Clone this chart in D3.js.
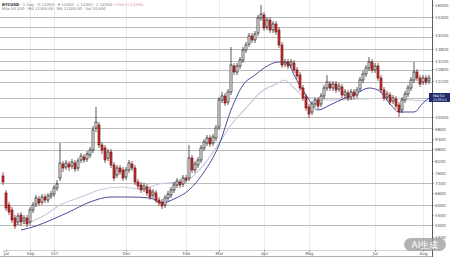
<!DOCTYPE html>
<html>
<head>
<meta charset="utf-8">
<script src="https://cdn.jsdelivr.net/npm/d3@7"></script>
<style>
  html, body { margin: 0; padding: 0; background: #fff; }
  #chart { width: 450px; height: 257px; overflow: hidden; }
  text { font-family: "DejaVu Sans", Arial, sans-serif; }
  .axis text { font-size: 4.2px; fill: #555; }
  .axis line { stroke: #666; stroke-width: 0.5; }
  .legend { font-size: 3.8px; fill: #777; }
</style>
</head>
<body>
<div id="chart"></div>
<script>
// daily candles
const opens = [
  7450, 6600, 6000, 5750, 5350, 5150, 5500, 5200, 5350, 5150,
  5750, 6050, 6300, 6150, 6400, 6250, 6450, 6550, 6850, 7350,
  8050, 7900, 8050, 7950, 8100, 7850, 8250, 8400, 8300, 8500,
  8750, 9850, 10000, 9000, 8850, 8350, 8650, 8000, 7500, 7850,
  7750, 7400, 7750, 8050, 7850, 7150, 7000, 6800, 6900, 6750,
  6500, 6600, 6250, 6150, 6000, 6350, 6500, 6750, 7000, 7150,
  7050, 7350, 7350, 8350, 7750, 8000, 8250, 8850, 9100, 9350,
  9100, 9350, 9900, 11250, 11450, 11150, 11650, 12950, 12650, 12950,
  13250, 13750, 14050, 14450, 14250, 14600, 15350, 15500, 14900, 15250,
  14750, 15050, 14750, 14000, 13050, 13150, 13000, 13100, 12750, 12500,
  11850, 11400, 10900, 10650, 11050, 11250, 11050, 11450, 11850, 12050,
  11850, 12050, 11800, 11900, 11500, 11600, 11400, 11650, 11500, 11800,
  12250, 12550, 12850, 13150, 12750, 12950, 12350, 11750, 11400, 11500,
  11200, 11300, 11000, 10750, 11250, 11550, 11850, 12250, 12650, 12350,
  12150, 12350, 12200,
];
const highs = [
  7650, 6750, 6150, 5900, 5500, 5600, 5650, 5500, 5500, 5900,
  6150, 6500, 6450, 6550, 6550, 6600, 6700, 7000, 7250, 9100,
  8200, 8250, 8200, 8300, 8250, 8350, 8600, 8550, 8700, 8900,
  9950, 10900, 10150, 9150, 9000, 8800, 8800, 8150, 8000, 8000,
  7900, 7900, 8250, 8200, 8000, 7300, 7150, 7100, 7050, 6900,
  6800, 6750, 6400, 6300, 6500, 6700, 6900, 7150, 7350, 7300,
  7500, 7500, 9000, 8500, 8200, 8400, 9000, 9300, 9500, 9500,
  9550, 10000, 11400, 11650, 11600, 11800, 13900, 13100, 13100, 13400,
  13900, 14150, 14600, 14600, 14700, 15500, 16000, 15650, 15400, 15400,
  15200, 15200, 14900, 14150, 13300, 13300, 13300, 13250, 12900, 12650,
  12000, 11550, 11050, 11200, 11400, 11400, 11600, 12000, 12500, 12200,
  12200, 12200, 12100, 12050, 11800, 11750, 11800, 11800, 11900, 12400,
  12700, 13000, 13400, 13300, 13100, 13100, 12500, 11900, 11700, 11650,
  11500, 11450, 11150, 11400, 11700, 12000, 12400, 13150, 12800, 12500,
  12500, 12500, 12500,
];
const lows = [
  7000, 5700, 5500, 5100, 4800, 5000, 4950, 5050, 4900, 5000,
  5600, 5900, 5950, 6000, 6100, 6100, 6300, 6400, 6700, 7200,
  7650, 7750, 7700, 7800, 7650, 7700, 8100, 8100, 8150, 8350,
  8600, 9650, 8850, 8550, 8100, 8200, 7850, 7200, 7350, 7500,
  7200, 7250, 7600, 7700, 7000, 6800, 6600, 6650, 6450, 6250,
  6350, 6100, 5950, 5800, 5850, 6200, 6350, 6600, 6850, 6850,
  6900, 7100, 7200, 7600, 7600, 7850, 8100, 8700, 8950, 8900,
  8950, 9200, 9750, 11100, 10950, 11000, 11500, 12500, 12500, 12800,
  13100, 13600, 13900, 14100, 14100, 14450, 15200, 14700, 14750, 14600,
  14600, 14500, 13850, 12850, 12900, 12800, 12850, 12600, 12300, 11700,
  11200, 10700, 10350, 10500, 10900, 10800, 10900, 11300, 11700, 11700,
  11700, 11600, 11650, 11350, 11350, 11200, 11250, 11300, 11350, 11650,
  12100, 12400, 12700, 12600, 12600, 12200, 11600, 11200, 11250, 11000,
  11050, 10800, 10400, 10600, 11100, 11400, 11700, 12100, 12200, 11900,
  12000, 12000, 12050,
];
const closes = [
  7150, 5850, 5650, 5250, 4950, 5450, 5150, 5350, 5050, 5750,
  6000, 6350, 6100, 6400, 6250, 6450, 6550, 6850, 7050, 8100,
  7850, 8100, 7900, 8150, 7800, 8200, 8450, 8250, 8550, 8750,
  9750, 10150, 9000, 8750, 8250, 8650, 8000, 7350, 7850, 7650,
  7350, 7750, 8100, 7850, 7150, 6950, 6750, 6950, 6600, 6400,
  6650, 6250, 6100, 5950, 6350, 6550, 6750, 7000, 7200, 7000,
  7350, 7250, 8350, 7750, 8050, 8250, 8850, 9150, 9350, 9050,
  9400, 9850, 11250, 11450, 11100, 11650, 13000, 12650, 12950, 13250,
  13750, 14000, 14450, 14250, 14550, 15350, 15550, 14850, 15250, 14750,
  15050, 14650, 14000, 13000, 13150, 12950, 13150, 12750, 12450, 11850,
  11350, 10850, 10550, 11050, 11250, 10950, 11450, 11850, 12150, 11850,
  12050, 11750, 11950, 11500, 11650, 11350, 11650, 11450, 11750, 12250,
  12550, 12850, 13150, 12750, 12950, 12350, 11750, 11350, 11550, 11150,
  11350, 10950, 10650, 11250, 11550, 11850, 12250, 12650, 12350, 12050,
  12350, 12150, 12350,
];

// moving averages (bar index, value)
const maFastIdx = [6, 11, 16, 22, 29, 36, 42, 49, 53, 57, 62, 67, 72, 76, 80, 84, 87, 92, 95, 97,
  101, 105, 109, 114, 118, 122, 125, 129, 132, 137, 140, 142];
const maFast = [4750, 4950, 5250, 5650, 6150, 6400, 6400, 6350, 6100, 6300, 6750, 7650, 9000, 10750,
  12000, 12500, 12850, 13150, 13100, 12500, 11500, 10750, 11000, 11350, 11600, 11850, 11750,
  11050, 10650, 10650, 11100, 11350];
const maSlowIdx = [4, 9, 14, 19, 26, 32, 39, 46, 52, 61, 66, 71, 76, 81, 86, 91, 94, 97, 101, 109,
  119, 129, 136, 142];
const maSlow = [5000, 5150, 5500, 6000, 6400, 6750, 6900, 6800, 7050, 7200, 7850, 8850, 10000,
  10850, 11650, 12050, 12250, 11850, 11400, 11250, 11300, 11350, 11250, 11200];

const priceTicks = [16000, 15400, 14500, 13800, 13200, 12800, 12200, 10400, 9800, 9300, 8800,
  8200, 7600, 7100, 6600, 6000, 5500, 5000, 4400];
const gridLevels = [15400, 14900, 14400, 13800, 13200, 12750, 12150, 11350, 10400, 9850, 9150,
  8750, 7100, 6000, 5000];
const monthIdx = [1, 9, 17, 41, 61, 72, 87, 102, 124, 140];
const monthLabels = ['Jul', 'Sep', 'Oct', 'Dec', 'Feb', 'Mar', 'Apr', 'May', 'Jul', 'Aug'];

class Chart {
  constructor(node, options) {
    this.options = options || {};
    this.container = d3.select(node);
    this.setupVar();
    this.setupUtils();
    this.setupDOM();
  }

  setupVar() {
    this.width = 450;
    this.height = 257;
    this.plotRight = 432;
    this.plotBottom = 250;
    this.bars = closes.map((c, i) => ({
      i, open: opens[i], high: highs[i], low: lows[i], close: c,
    }));
  }

  setupUtils() {
    this.x = d3.scaleLinear().domain([0, closes.length - 1]).range([3, 429]);
    this.y = d3.scaleLinear().domain([3850, 16000]).range([248, 5]);

    this.yAxis = d3.axisRight(this.y)
      .tickValues(priceTicks)
      .tickSize(2)
      .tickPadding(1)
      .tickFormat((d) => `${d}`);

    this.xAxis = d3.axisBottom(this.x)
      .tickValues(monthIdx)
      .tickSize(2)
      .tickPadding(0.5)
      .tickFormat((d, i) => monthLabels[i]);

    this.line = d3.line()
      .x((d) => this.x(d.i))
      .y((d) => this.y(d.v))
      .curve(d3.curveMonotoneX);
  }

  setupDOM() {
    this.svg = this.container.append('svg')
      .attr('width', this.width)
      .attr('height', this.height);
  }

  draw() {
    const { svg, x, y } = this;

    // vertical month grid
    svg.append('g').selectAll('line')
      .data(monthIdx.slice(1))
      .join('line')
      .attr('x1', (d) => Math.round(x(d)) + 0.5)
      .attr('x2', (d) => Math.round(x(d)) + 0.5)
      .attr('y1', 0)
      .attr('y2', this.plotBottom)
      .attr('stroke', '#e6e6e6')
      .attr('stroke-width', 0.8);

    // horizontal grid
    svg.append('g').selectAll('line')
      .data(gridLevels)
      .join('line')
      .attr('x1', 0)
      .attr('x2', this.plotRight)
      .attr('y1', (d) => Math.round(y(d)) + 0.5)
      .attr('y2', (d) => Math.round(y(d)) + 0.5)
      .attr('stroke', '#b4b4b4')
      .attr('stroke-width', 0.9);

    const series = (idx, vals) => idx.map((i, k) => ({ i, v: vals[k] }));

    svg.append('path')
      .datum(series(maSlowIdx, maSlow))
      .attr('d', this.line)
      .attr('fill', 'none')
      .attr('stroke', '#cdc9dc')
      .attr('stroke-width', 1.2);

    svg.append('path')
      .datum(series(maFastIdx, maFast))
      .attr('d', this.line)
      .attr('fill', 'none')
      .attr('stroke', '#4a4aa0')
      .attr('stroke-width', 1);

    // candles
    const candle = svg.append('g').selectAll('g')
      .data(this.bars)
      .join('g');

    candle.append('line')
      .attr('x1', (d) => x(d.i))
      .attr('x2', (d) => x(d.i))
      .attr('y1', (d) => y(d.high))
      .attr('y2', (d) => y(d.low))
      .attr('stroke', (d) => (d.close >= d.open ? '#111' : '#6e1010'))
      .attr('stroke-width', 0.7);

    candle.append('rect')
      .attr('x', (d) => x(d.i) - 1)
      .attr('width', 2)
      .attr('y', (d) => y(Math.max(d.open, d.close)))
      .attr('height', (d) => Math.max(0.8, Math.abs(y(d.open) - y(d.close))))
      .attr('fill', (d) => (d.close >= d.open ? '#fff' : '#cf2f2f'))
      .attr('stroke', (d) => (d.close >= d.open ? '#111' : '#6e1010'))
      .attr('stroke-width', 0.65);

    // axes
    const gy = svg.append('g')
      .attr('class', 'axis')
      .attr('transform', `translate(${this.plotRight}, 0)`)
      .call(this.yAxis);
    gy.select('.domain').remove();

    const gx = svg.append('g')
      .attr('class', 'axis')
      .attr('transform', `translate(0, ${this.plotBottom})`)
      .call(this.xAxis);
    gx.select('.domain').attr('stroke', '#bbb').attr('stroke-width', 0.6);
    gx.selectAll('text').attr('fill', '#333');

    svg.append('line')
      .attr('x1', 0).attr('x2', this.plotRight)
      .attr('y1', 256.5).attr('y2', 256.5)
      .attr('stroke', '#999').attr('stroke-width', 0.8);

    svg.append('line')
      .attr('x1', this.plotRight + 0.5).attr('x2', this.plotRight + 0.5)
      .attr('y1', 0).attr('y2', this.height)
      .attr('stroke', '#333').attr('stroke-width', 0.8);

    // last value tag of the fast average
    const lastMa = maFast[maFast.length - 1];
    const tag = svg.append('g')
      .attr('transform', `translate(${this.plotRight - 3}, ${y(lastMa) - 5})`);
    tag.append('rect')
      .attr('width', 21).attr('height', 9)
      .attr('fill', '#1f2a6b');
    tag.append('text')
      .attr('x', 4).attr('y', 3.8)
      .attr('font-size', 3.3).attr('fill', '#fff')
      .text('MA(50)');
    tag.append('text')
      .attr('x', 4).attr('y', 7.6)
      .attr('font-size', 3.3).attr('fill', '#fff')
      .text(`${lastMa}.0`);

    // legend
    const lg = svg.append('g').attr('class', 'legend');
    const l1 = lg.append('text').attr('x', 2).attr('y', 5.5);
    l1.append('tspan').attr('font-weight', 'bold').attr('fill', '#222').text('BTCUSD');
    l1.append('tspan').text(' · 1 Day · O 12200 · H 12500 · L 12050 · C 12350');
    l1.append('tspan').attr('fill', '#d77a8a').text('  +150 (+1.23%)');
    lg.append('text').attr('x', 2).attr('y', 10)
      .text('MAs 50 200 · MA 11350.00 · MA 11200.00 · Vol 10,650');

    // watermark
    const wm = svg.append('g').attr('transform', 'translate(404, 238)');
    wm.append('rect')
      .attr('width', 42).attr('height', 13).attr('rx', 6.5)
      .attr('fill', '#9a9a9a').attr('opacity', 0.75);
    wm.append('text')
      .attr('x', 21).attr('y', 9.8)
      .attr('text-anchor', 'middle')
      .attr('font-family', '"Noto Sans CJK SC", sans-serif')
      .attr('font-size', 9).attr('fill', '#fff')
      .text('AI生成');
  }
}

const chart = new Chart(document.getElementById('chart'));
chart.draw();
</script>
</body>
</html>
